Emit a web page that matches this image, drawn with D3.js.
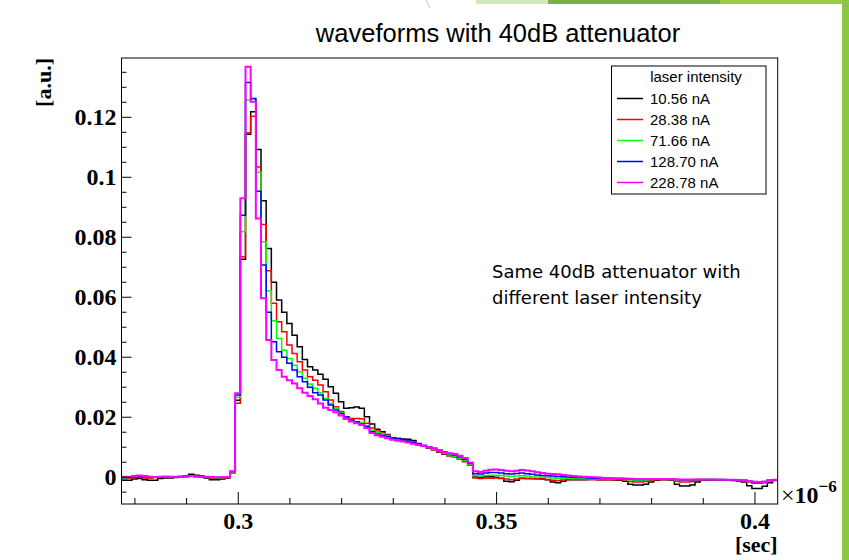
<!DOCTYPE html>
<html>
<head>
<meta charset="utf-8">
<script src="https://cdn.jsdelivr.net/npm/d3@7"></script>
<style>
  body { margin: 0; background: #fff; }
  svg { display: block; }
</style>
</head>
<body>
<script>
const width = 849;
const height = 560;

// histogram binning (x in units of 1e-6 s)
const binStart = 0.2775;
const binWidth = 0.001;

const seriesNames = ["10.56 nA", "28.38 nA", "71.66 nA", "128.70 nA", "228.78 nA"];
const seriesColors = ["#000000", "#ff0000", "#00ff00", "#0000ff", "#ff00ff"];

const black = [
  -0.0012, -0.0012, -0.0008, -0.0006, -0.0010, -0.0012, -0.0012, -0.0006, -0.0004, -0.0004,
  -0.0003, -0.0002, 0.0003, 0.0008, 0.0005, 0.0002, -0.0004, -0.0010, -0.0010, -0.0008,
  -0.0004, 0.0015, 0.0255, 0.0725, 0.1142, 0.1217, 0.1091, 0.0920, 0.0761, 0.0648,
  0.0589, 0.0548, 0.0511, 0.0472, 0.0433, 0.0391, 0.0367, 0.0356, 0.0342, 0.0325,
  0.0300, 0.0278, 0.0250, 0.0228, 0.0230, 0.0232, 0.0228, 0.0200, 0.0176, 0.0158,
  0.0150, 0.0141, 0.0130, 0.0127, 0.0126, 0.0125, 0.0121, 0.0108, 0.0102, 0.0096,
  0.0090, 0.0082, 0.0075, 0.0070, 0.0067, 0.0060, 0.0053, 0.0040, 0.0000, -0.0002,
  0.0000, 0.0000, -0.0002, -0.0005, -0.0015, -0.0017, -0.0012, -0.0005, -0.0006, -0.0006,
  -0.0007, -0.0008, -0.0010, -0.0018, -0.0020, -0.0015, -0.0010, -0.0010, -0.0010, -0.0010,
  -0.0009, -0.0009, -0.0010, -0.0010, -0.0010, -0.0011, -0.0012, -0.0015, -0.0025, -0.0028,
  -0.0028, -0.0025, -0.0018, -0.0012, -0.0010, -0.0010, -0.0012, -0.0025, -0.0031, -0.0031,
  -0.0028, -0.0018, -0.0012, -0.0011, -0.0011, -0.0012, -0.0012, -0.0012, -0.0013, -0.0014,
  -0.0018, -0.0030, -0.0039, -0.0039, -0.0032, -0.0020, -0.0013
];

const red = [
  -0.0008, -0.0005, -0.0003, -0.0002, -0.0004, -0.0005, -0.0003, -0.0002, -0.0001, -0.0002,
  -0.0001, 0.0000, 0.0001, 0.0003, 0.0001, 0.0000, -0.0002, -0.0005, -0.0006, -0.0004,
  -0.0003, 0.0012, 0.0245, 0.0733, 0.1147, 0.1202, 0.1033, 0.0841, 0.0687, 0.0578,
  0.0517, 0.0483, 0.0439, 0.0411, 0.0383, 0.0356, 0.0333, 0.0322, 0.0306, 0.0283,
  0.0256, 0.0233, 0.0217, 0.0200, 0.0194, 0.0194, 0.0193, 0.0178, 0.0162, 0.0152,
  0.0145, 0.0138, 0.0130, 0.0126, 0.0122, 0.0118, 0.0114, 0.0108, 0.0102, 0.0097,
  0.0090, 0.0084, 0.0076, 0.0071, 0.0066, 0.0058, 0.0050, 0.0040, -0.0004, -0.0006,
  -0.0005, -0.0005, -0.0004, -0.0006, -0.0008, -0.0010, -0.0008, -0.0006, -0.0006, -0.0007,
  -0.0007, -0.0008, -0.0009, -0.0012, -0.0013, -0.0011, -0.0009, -0.0009, -0.0009, -0.0009,
  -0.0009, -0.0009, -0.0010, -0.0010, -0.0010, -0.0010, -0.0010, -0.0011, -0.0016, -0.0018,
  -0.0018, -0.0016, -0.0012, -0.0010, -0.0009, -0.0009, -0.0010, -0.0015, -0.0018, -0.0018,
  -0.0016, -0.0012, -0.0010, -0.0010, -0.0010, -0.0010, -0.0010, -0.0011, -0.0011, -0.0012,
  -0.0014, -0.0018, -0.0022, -0.0022, -0.0020, -0.0014, -0.0011
];

const green = [
  -0.0004, -0.0003, -0.0002, -0.0001, -0.0002, -0.0003, -0.0002, -0.0001, 0.0000, -0.0001,
  0.0000, 0.0000, 0.0001, 0.0002, 0.0001, 0.0000, -0.0001, -0.0003, -0.0004, -0.0003,
  -0.0002, 0.0016, 0.0265, 0.0817, 0.1256, 0.1262, 0.1015, 0.0783, 0.0620, 0.0520,
  0.0461, 0.0422, 0.0394, 0.0372, 0.0350, 0.0328, 0.0309, 0.0295, 0.0280, 0.0261,
  0.0244, 0.0228, 0.0213, 0.0197, 0.0186, 0.0183, 0.0181, 0.0170, 0.0155, 0.0148,
  0.0143, 0.0137, 0.0131, 0.0126, 0.0122, 0.0118, 0.0114, 0.0109, 0.0103, 0.0098,
  0.0092, 0.0087, 0.0079, 0.0073, 0.0068, 0.0061, 0.0054, 0.0042, 0.0003, 0.0002,
  0.0004, 0.0005, 0.0005, 0.0004, 0.0002, 0.0001, 0.0002, 0.0003, 0.0002, 0.0000,
  -0.0001, -0.0002, -0.0003, -0.0004, -0.0005, -0.0005, -0.0005, -0.0006, -0.0006, -0.0006,
  -0.0007, -0.0007, -0.0007, -0.0008, -0.0008, -0.0008, -0.0008, -0.0009, -0.0011, -0.0012,
  -0.0012, -0.0011, -0.0009, -0.0008, -0.0008, -0.0008, -0.0009, -0.0011, -0.0013, -0.0013,
  -0.0012, -0.0010, -0.0009, -0.0009, -0.0009, -0.0009, -0.0010, -0.0010, -0.0010, -0.0011,
  -0.0013, -0.0016, -0.0018, -0.0018, -0.0017, -0.0013, -0.0010
];

const blue = [
  -0.0003, -0.0002, -0.0001, 0.0000, -0.0001, -0.0002, -0.0001, 0.0000, 0.0000, 0.0000,
  0.0000, 0.0001, 0.0001, 0.0002, 0.0001, 0.0000, 0.0000, -0.0002, -0.0003, -0.0002,
  -0.0001, 0.0017, 0.0272, 0.0872, 0.1314, 0.1260, 0.0952, 0.0706, 0.0548, 0.0450,
  0.0417, 0.0398, 0.0378, 0.0356, 0.0333, 0.0317, 0.0298, 0.0280, 0.0272, 0.0256,
  0.0239, 0.0222, 0.0211, 0.0200, 0.0189, 0.0183, 0.0176, 0.0167, 0.0150, 0.0142,
  0.0138, 0.0134, 0.0130, 0.0127, 0.0123, 0.0119, 0.0115, 0.0111, 0.0105, 0.0100,
  0.0095, 0.0089, 0.0082, 0.0077, 0.0072, 0.0066, 0.0058, 0.0045, 0.0010, 0.0009,
  0.0012, 0.0014, 0.0014, 0.0012, 0.0010, 0.0009, 0.0011, 0.0012, 0.0010, 0.0008,
  0.0006, 0.0004, 0.0003, 0.0002, 0.0001, 0.0000, -0.0001, -0.0002, -0.0003, -0.0003,
  -0.0004, -0.0005, -0.0005, -0.0006, -0.0006, -0.0006, -0.0007, -0.0007, -0.0008, -0.0009,
  -0.0009, -0.0009, -0.0008, -0.0008, -0.0008, -0.0008, -0.0008, -0.0009, -0.0010, -0.0010,
  -0.0010, -0.0009, -0.0009, -0.0009, -0.0009, -0.0009, -0.0009, -0.0010, -0.0010, -0.0011,
  -0.0012, -0.0015, -0.0017, -0.0017, -0.0016, -0.0012, -0.0010
];

const magenta = [
  0.0000, -0.0001, 0.0002, 0.0004, 0.0002, 0.0000, -0.0001, 0.0000, 0.0001, 0.0000,
  0.0000, 0.0001, 0.0001, 0.0002, 0.0001, 0.0000, 0.0000, -0.0001, -0.0002, -0.0002,
  -0.0001, 0.0018, 0.0278, 0.0928, 0.1367, 0.1250, 0.0861, 0.0595, 0.0456, 0.0389,
  0.0356, 0.0333, 0.0322, 0.0311, 0.0295, 0.0280, 0.0269, 0.0258, 0.0244, 0.0230,
  0.0222, 0.0215, 0.0204, 0.0192, 0.0184, 0.0178, 0.0172, 0.0162, 0.0146, 0.0138,
  0.0133, 0.0128, 0.0123, 0.0120, 0.0117, 0.0114, 0.0110, 0.0106, 0.0102, 0.0098,
  0.0094, 0.0088, 0.0081, 0.0078, 0.0076, 0.0070, 0.0062, 0.0047, 0.0018, 0.0016,
  0.0020, 0.0023, 0.0024, 0.0022, 0.0020, 0.0018, 0.0020, 0.0022, 0.0021, 0.0018,
  0.0015, 0.0012, 0.0010, 0.0009, 0.0008, 0.0006, 0.0004, 0.0002, 0.0001, 0.0000,
  -0.0001, -0.0002, -0.0003, -0.0004, -0.0004, -0.0005, -0.0005, -0.0006, -0.0007, -0.0008,
  -0.0008, -0.0008, -0.0008, -0.0008, -0.0008, -0.0008, -0.0008, -0.0009, -0.0009, -0.0009,
  -0.0009, -0.0009, -0.0009, -0.0009, -0.0009, -0.0010, -0.0010, -0.0010, -0.0010, -0.0011,
  -0.0012, -0.0015, -0.0017, -0.0018, -0.0017, -0.0012, -0.0010
];

const seriesValues = [black, red, green, blue, magenta];

const xMajorTicks = [0.3, 0.35, 0.4];
const xMajorLabels = ["0.3", "0.35", "0.4"];
const xMinorTicks = [0.28, 0.29, 0.31, 0.32, 0.33, 0.34, 0.36, 0.37, 0.38, 0.39];
const yMajorTicks = [0, 0.02, 0.04, 0.06, 0.08, 0.1, 0.12];
const yMajorLabels = ["0", "0.02", "0.04", "0.06", "0.08", "0.1", "0.12"];
const yMinorTicks = [-0.005, 0.005, 0.01, 0.015, 0.025, 0.03, 0.035, 0.045, 0.05, 0.055,
  0.065, 0.07, 0.075, 0.085, 0.09, 0.095, 0.105, 0.11, 0.115, 0.125, 0.13, 0.135];

const frame = { left: 121.5, right: 777.7, top: 58, bottom: 504 };

const x = d3.scaleLinear().domain([0.2775, 0.4045]).range([frame.left, frame.right]);
const y = d3.scaleLinear().domain([-0.0091, 0.1396]).range([frame.bottom, frame.top]);

const svg = d3.select("body").append("svg")
  .attr("width", width)
  .attr("height", height);

// slide decoration
svg.append("rect").attr("x", 476).attr("y", 0).attr("width", 72).attr("height", 4).attr("fill", "#d3e8b8");
svg.append("rect").attr("x", 548).attr("y", 0).attr("width", 172).attr("height", 4).attr("fill", "#78b04a");
svg.append("rect").attr("x", 720).attr("y", 0).attr("width", 129).attr("height", 4).attr("fill", "#9ccb3f");
svg.append("rect").attr("x", 842).attr("y", 0).attr("width", 7).attr("height", height).attr("fill", "#8dc63f");
svg.append("path").attr("d", "M426,0 Q428,4 430,8").attr("fill", "none").attr("stroke", "#c8c8c8");

// title
svg.append("text")
  .attr("x", 498).attr("y", 42)
  .attr("text-anchor", "middle")
  .style("font-family", "'Liberation Sans', Arial, sans-serif")
  .style("font-size", "25.5px")
  .text("waveforms with 40dB attenuator");

svg.append("defs").append("clipPath").attr("id", "frameClip")
  .append("rect")
  .attr("x", frame.left).attr("y", frame.top)
  .attr("width", frame.right - frame.left).attr("height", frame.bottom - frame.top);

// histograms
const times = d3.range(black.length + 1).map(i => binStart + i * binWidth);
const line = d3.line()
  .x(d => x(d[0]))
  .y(d => y(d[1]))
  .curve(d3.curveStepAfter);

const plot = svg.append("g").attr("clip-path", "url(#frameClip)");
seriesValues.forEach((vals, s) => {
  const pts = vals.map((v, i) => [times[i], v]);
  pts.push([times[vals.length], vals[vals.length - 1]]);
  plot.append("path")
    .datum(pts)
    .attr("fill", "none")
    .attr("stroke", seriesColors[s])
    .attr("stroke-width", s === 4 ? 2 : 1.5)
    .attr("d", line);
});

// frame
svg.append("rect")
  .attr("x", frame.left).attr("y", frame.top)
  .attr("width", frame.right - frame.left).attr("height", frame.bottom - frame.top)
  .attr("fill", "none").attr("stroke", "#000").attr("stroke-width", 1);

const labelFont = "'Liberation Serif', 'Times New Roman', serif";

// x axis
const xMinor = svg.append("g").attr("transform", `translate(0,${frame.bottom})`)
  .call(d3.axisBottom(x).tickValues(xMinorTicks).tickSize(-6).tickFormat(""));
const xMajor = svg.append("g").attr("transform", `translate(0,${frame.bottom})`)
  .call(d3.axisBottom(x).tickValues(xMajorTicks).tickSize(-12)
    .tickFormat((d, i) => xMajorLabels[i]));
[xMinor, xMajor].forEach(g => g.select(".domain").remove());
xMajor.selectAll("text")
  .attr("y", 25).attr("dy", null)
  .style("font-family", labelFont).style("font-weight", "bold").style("font-size", "24px")
  .attr("fill", "#000");

// y axis
const yMinor = svg.append("g").attr("transform", `translate(${frame.left},0)`)
  .call(d3.axisLeft(y).tickValues(yMinorTicks).tickSize(-5).tickFormat(""));
const yMajor = svg.append("g").attr("transform", `translate(${frame.left},0)`)
  .call(d3.axisLeft(y).tickValues(yMajorTicks).tickSize(-10)
    .tickFormat((d, i) => yMajorLabels[i]));
[yMinor, yMajor].forEach(g => g.select(".domain").remove());
yMajor.selectAll("text")
  .attr("x", -5).attr("dy", "0.34em")
  .style("font-family", labelFont).style("font-weight", "bold").style("font-size", "24px")
  .attr("fill", "#000");

// axis titles
svg.append("text")
  .attr("x", frame.right).attr("y", 552)
  .attr("text-anchor", "end")
  .style("font-family", labelFont).style("font-weight", "bold").style("font-size", "22px")
  .text("[sec]");

svg.append("text")
  .attr("transform", `translate(51,${frame.top}) rotate(-90)`)
  .attr("text-anchor", "end")
  .style("font-family", labelFont).style("font-weight", "bold").style("font-size", "22px")
  .text("[a.u.]");

// exponent
const expo = svg.append("text")
  .attr("x", 781).attr("y", 503)
  .style("font-family", labelFont).style("font-weight", "bold").style("font-size", "24px");
expo.append("tspan").style("font-weight", "normal").text("\u00d7");
expo.append("tspan").text("10");
expo.append("tspan").attr("dy", -11).style("font-size", "17px").text("\u22126");

// legend
const legend = svg.append("g");
legend.append("rect")
  .attr("x", 611.5).attr("y", 66).attr("width", 154.5).attr("height", 128)
  .attr("fill", "#fff").attr("stroke", "#000").attr("stroke-width", 1);
legend.append("text")
  .attr("x", 696).attr("y", 82)
  .attr("text-anchor", "middle")
  .style("font-family", "'Liberation Sans', Arial, sans-serif").style("font-size", "15px")
  .text("laser intensity");
seriesNames.forEach((name, i) => {
  const ly = 98.5 + i * 21;
  legend.append("line")
    .attr("x1", 617).attr("x2", 643).attr("y1", ly).attr("y2", ly)
    .attr("stroke", seriesColors[i]).attr("stroke-width", 1.5);
  legend.append("text")
    .attr("x", 650).attr("y", ly + 5)
    .style("font-family", "'Liberation Sans', Arial, sans-serif").style("font-size", "15px")
    .text(name);
});

// annotation
const note = svg.append("text")
  .style("font-family", "'DejaVu Sans', sans-serif").style("font-size", "18px")
  .attr("fill", "#000");
note.append("tspan").attr("x", 492).attr("y", 278).text("Same 40dB attenuator with");
note.append("tspan").attr("x", 492).attr("y", 304).text("different laser intensity");
</script>
</body>
</html>
